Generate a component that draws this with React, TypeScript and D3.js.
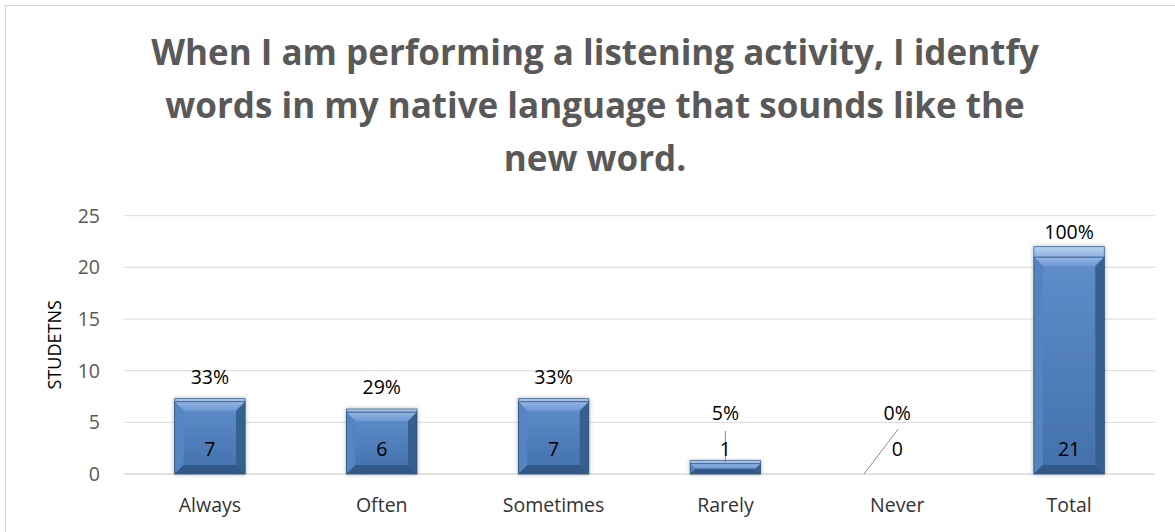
import React from "react";
import * as d3 from "d3";

const titleLines = [
  "When I am performing a listening activity, I identfy",
  "words in my native language that sounds like the",
  "new word.",
];
const categories = ["Always", "Often", "Sometimes", "Rarely", "Never", "Total"];
const counts = [7, 6, 7, 1, 0, 21];
const percents = ["33%", "29%", "33%", "5%", "0%", "100%"];
const capExtra = [0, 0, 0, 0, 0, 1];
const yTicks = [0, 5, 10, 15, 20, 25];
const yAxisTitle = "STUDETNS";

const W = 1175;
const H = 532;
const FONT = "'Open Sans', Lato, sans-serif";

export default function App() {
  const x = d3
    .scaleBand<string>()
    .domain(categories)
    .range([124, 1155])
    .paddingInner(0.59)
    .paddingOuter(0.295);
  const y = d3.scaleLinear().domain([0, 25]).range([474, 215.7]);
  const bw = x.bandwidth();
  const y0 = y(0);

  return (
    <svg
      width={W}
      height={H}
      style={{ position: "absolute", left: 0, top: 0, background: "#fff" }}
      fontFamily={FONT}
    >
      <defs>
        <linearGradient id="face" x1="0" y1="0" x2="0" y2="1">
          <stop offset="0" stopColor="#5f8ecb" />
          <stop offset="1" stopColor="#4270ab" />
        </linearGradient>
        <linearGradient id="topBevel" x1="0" y1="0" x2="0" y2="1">
          <stop offset="0" stopColor="#93b6e4" />
          <stop offset="1" stopColor="#6f99d2" />
        </linearGradient>
        <linearGradient id="cap" x1="0" y1="0" x2="0" y2="1">
          <stop offset="0" stopColor="#b9d1f0" />
          <stop offset="1" stopColor="#8fb2e1" />
        </linearGradient>
        <filter id="shadow" x="-20%" y="-20%" width="140%" height="140%">
          <feDropShadow dx="0" dy="0" stdDeviation="2" floodColor="#000" floodOpacity="0.3" />
        </filter>
      </defs>

      <rect x={5.5} y={5.5} width={1190} height={560} fill="#fff" stroke="#d9d9d9" strokeWidth={1} />

      {titleLines.map((t, i) => (
        <text
          key={i}
          x={595}
          y={65 + i * 53}
          textAnchor="middle"
          fontSize={35}
          fontWeight="bold"
          fill="#595959"
        >
          {t}
        </text>
      ))}

      {yTicks.map((t) => (
        <g key={t}>
          <line x1={124} x2={1155} y1={y(t)} y2={y(t)} stroke="#d9d9d9" strokeWidth={t === 0 ? 1.5 : 1} />
          <text x={100} y={y(t)} dy="0.35em" textAnchor="end" fontSize={19.5} fill="#595959">
            {t}
          </text>
        </g>
      ))}

      <text
        transform={`translate(61, ${(y(0) + y(25)) / 2}) rotate(-90)`}
        textAnchor="middle"
        fontSize={18}
        fill="#000"
      >
        {yAxisTitle}
      </text>

      {categories.map((c, i) => {
        const v = counts[i];
        const bx0 = x(c) as number;
        const bx1 = bx0 + bw;
        const cx = bx0 + bw / 2;
        const top = y(v);
        const h = y0 - top;
        const b = Math.min(9, h / 2);
        const pctBase = Math.min(top - 18, y0 - 54);
        const displaced = top - 18 > y0 - 54;
        const capTop = capExtra[i] ? y(v + capExtra[i]) : top - 3;
        return (
          <g key={c}>
            {v > 0 && (
              <g filter="url(#shadow)">
                <rect x={bx0} y={top} width={bw} height={h} fill="url(#face)" />
                <polygon
                  points={`${bx0},${top} ${bx1},${top} ${bx1 - b},${top + b} ${bx0 + b},${top + b}`}
                  fill="url(#topBevel)"
                />
                <polygon
                  points={`${bx0},${top} ${bx0 + b},${top + b} ${bx0 + b},${y0 - b} ${bx0},${y0}`}
                  fill="#5584c2"
                />
                <polygon
                  points={`${bx1},${top} ${bx1 - b},${top + b} ${bx1 - b},${y0 - b} ${bx1},${y0}`}
                  fill="#36608f"
                />
                <polygon
                  points={`${bx0},${y0} ${bx0 + b},${y0 - b} ${bx1 - b},${y0 - b} ${bx1},${y0}`}
                  fill="#325887"
                />
                <rect x={bx0} y={top} width={bw} height={h} fill="none" stroke="#2e5079" strokeWidth={0.8} />
                <rect
                  x={bx0}
                  y={capTop}
                  width={bw}
                  height={top - capTop}
                  fill="url(#cap)"
                  stroke="#3b6193"
                  strokeWidth={0.8}
                />
              </g>
            )}
            <text x={cx} y={pctBase} textAnchor="middle" fontSize={19.5} fill="#000">
              {percents[i]}
            </text>
            {displaced &&
              (v > 0 ? (
                <line x1={cx} x2={cx} y1={pctBase + 11} y2={top} stroke="#8c8c8c" strokeWidth={1} />
              ) : (
                <line
                  x1={cx - bw / 2 + 2}
                  y1={y0}
                  x2={cx + 1}
                  y2={pctBase + 9}
                  stroke="#8c8c8c"
                  strokeWidth={1}
                />
              ))}
            <text x={cx} y={y0 - 18} textAnchor="middle" fontSize={19.5} fill="#000">
              {v}
            </text>
            <text x={cx} y={512} textAnchor="middle" fontSize={19.5} fill="#333">
              {c}
            </text>
          </g>
        );
      })}
    </svg>
  );
}
